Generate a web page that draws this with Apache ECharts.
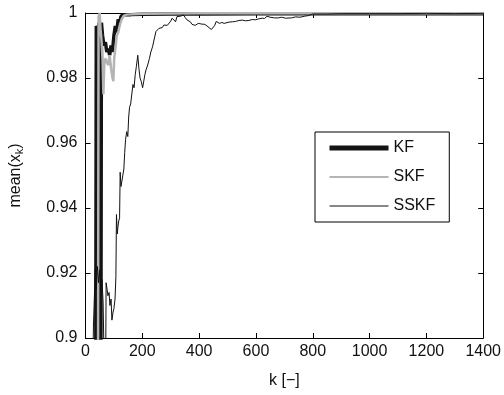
<!DOCTYPE html>
<html>
<head>
<meta charset="utf-8">
<script src="https://cdn.jsdelivr.net/npm/echarts@6/dist/echarts.min.js"></script>
<style>
  html, body { margin: 0; padding: 0; background: #fff; }
  #main { width: 504px; height: 395px; }
</style>
</head>
<body>
<div id="main"></div>
<script>
// values (k, mean(x_k))
var xTicks = [0, 200, 400, 600, 800, 1000, 1200, 1400];
var yTicks = [0.9, 0.92, 0.94, 0.96, 0.98, 1];

var kKF = [0, 36, 38, 43, 48, 51, 53, 54, 56, 60, 65, 70, 75, 80, 85, 90, 95, 100, 105, 110, 115, 120, 125, 130, 135, 160, 200, 300, 400, 600, 800, 1000, 1200, 1400];
var vKF = [0.6, 0.88, 0.996, 0.995, 0.997, 0.99, 0.85, 0.88, 0.997, 0.993, 0.99, 0.991, 0.988, 0.989, 0.987, 0.99, 0.988, 0.993, 0.996, 0.994, 0.998, 0.997, 0.999, 0.9985, 0.9995, 0.9995, 0.9996, 0.9997, 0.9997, 0.9998, 0.9998, 0.9998, 0.9998, 0.9998];

var kSKF = [0, 44, 46, 50, 53, 56, 60, 63, 66, 70, 75, 80, 85, 90, 95, 98, 101, 105, 110, 115, 120, 127, 135, 145, 200, 400, 800, 1400];
var vSKF = [0.6, 0.88, 0.999, 1.0, 0.995, 0.992, 0.986, 0.975, 0.984, 0.986, 0.985, 0.984, 0.987, 0.983, 0.98, 0.979, 0.986, 0.989, 0.993, 0.994, 0.996, 0.998, 0.9992, 0.9995, 0.9998, 0.9999, 0.9999, 0.9999];

var kSSKF = [0, 26, 28, 31, 34, 38, 42, 46, 50, 54, 58, 62, 67, 71, 72.5, 76, 79, 83, 86, 90, 93, 97, 100, 104, 107, 109, 112, 114, 117, 120, 122, 125, 128, 131, 135, 138, 141, 145, 149, 152, 155, 159, 163, 167, 171, 175, 179, 184, 188, 192, 196, 201, 205, 209, 213, 219, 225, 230, 236, 242, 248, 253, 259, 265, 270, 276, 282, 288, 294, 300, 305, 311, 317, 322, 328, 334, 340, 345, 351, 357, 363, 369, 375, 380, 386, 391, 397, 403, 409, 414, 420, 428, 435, 443, 449, 455, 460, 466, 472, 480, 488, 495, 505, 518, 528, 540, 553, 563, 575, 587, 598, 610, 622, 630, 639, 650, 665, 679, 690, 705, 725, 740, 755, 770, 785, 800, 850, 900, 1000, 1100, 1200, 1300, 1400];
var vSSKF = [0.82, 0.893, 0.904, 0.912, 0.921, 0.915, 0.922, 0.917, 0.921, 0.914, 0.918, 0.911, 0.885, 0.89, 0.917, 0.915, 0.913, 0.914, 0.91, 0.912, 0.9055, 0.908, 0.909, 0.912, 0.919, 0.938, 0.932, 0.934, 0.936, 0.937, 0.951, 0.9466, 0.947, 0.946, 0.952, 0.957, 0.961, 0.9635, 0.962, 0.968, 0.971, 0.972, 0.972, 0.978, 0.977, 0.981, 0.9835, 0.987, 0.983, 0.98, 0.979, 0.977, 0.979, 0.981, 0.9825, 0.984, 0.986, 0.988, 0.9896, 0.992, 0.9943, 0.9945, 0.9953, 0.9958, 0.9955, 0.9963, 0.9958, 0.9962, 0.9963, 0.9975, 0.9984, 0.9978, 0.9973, 0.9989, 0.9986, 0.999, 0.9988, 0.9994, 0.9986, 0.9979, 0.9976, 0.9973, 0.9965, 0.9959, 0.9962, 0.9963, 0.9968, 0.9969, 0.9966, 0.9968, 0.9965, 0.996, 0.9956, 0.9949, 0.9948, 0.9962, 0.9974, 0.997, 0.9968, 0.9971, 0.9968, 0.9969, 0.9972, 0.9973, 0.9974, 0.9977, 0.9978, 0.9976, 0.9977, 0.998, 0.9979, 0.9982, 0.9984, 0.9983, 0.999, 0.9987, 0.9985, 0.9985, 0.9987, 0.9984, 0.9985, 0.9988, 0.9987, 0.999, 0.9992, 0.9997, 0.9997, 0.9998, 0.9998, 0.9998, 0.9999, 0.9998, 0.9999];

function pairs(ks, vs) {
  return ks.map(function (k, i) { return [k, vs[i]]; });
}

var font = 'Liberation Sans, Arial, Helvetica, sans-serif';
var chart = echarts.init(document.getElementById('main'));

var axisBase = {
  axisLine: { show: true, onZero: false, lineStyle: { color: '#000', width: 1 } },
  axisTick: { show: true, inside: true, length: 5, lineStyle: { color: '#000' } },
  splitLine: { show: false }
};

var option = {
  animation: false,
  backgroundColor: '#fff',
  textStyle: { fontFamily: font },
  grid: { left: 80, top: 13, right: 18, bottom: 57 },
  legend: {
    orient: 'vertical',
    left: 315,
    top: 132,
    padding: [8, 14, 8, 12],
    itemWidth: 59,
    itemHeight: 14,
    itemGap: 13,
    itemTextGap: 12,
    borderColor: '#000',
    borderWidth: 1,
    borderRadius: 0,
    backgroundColor: '#fff',
    selectedMode: false,
    itemStyle: { color: 'transparent', borderWidth: 0, opacity: 0 },
    textStyle: { fontFamily: font, fontSize: 16, color: '#111' },
    data: [
      { name: 'KF', lineStyle: { width: 5 } },
      { name: 'SKF', lineStyle: { width: 2 } },
      { name: 'SSKF', lineStyle: { width: 1 } }
    ]
  },
  xAxis: [
    Object.assign({
      type: 'value', min: xTicks[0], max: xTicks[xTicks.length - 1], interval: 200,
      position: 'bottom',
      name: 'k [\u2212]', nameLocation: 'middle', nameGap: 35,
      nameTextStyle: { fontFamily: font, fontSize: 16, color: '#111' },
      axisLabel: {
        fontFamily: font, fontSize: 16, color: '#111', margin: 6,
        formatter: function (v) { return String(v); }
      }
    }, axisBase),
    Object.assign({
      type: 'value', min: xTicks[0], max: xTicks[xTicks.length - 1], interval: 200,
      position: 'top', axisLabel: { show: false }
    }, axisBase)
  ],
  yAxis: [
    Object.assign({
      type: 'value', min: yTicks[0], max: yTicks[yTicks.length - 1], interval: 0.02,
      position: 'left',
      name: '{a|mean(x}{b|k}{a|)}', nameLocation: 'middle', nameGap: 60, nameRotate: 90,
      nameTextStyle: {
        rich: {
          a: { fontFamily: font, fontSize: 16, color: '#111' },
          b: { fontFamily: font, fontSize: 11, color: '#111', padding: [8, 0, 0, 0] }
        }
      },
      axisLabel: { fontFamily: font, fontSize: 16, color: '#111', margin: 8 }
    }, axisBase),
    Object.assign({
      type: 'value', min: yTicks[0], max: yTicks[yTicks.length - 1], interval: 0.02,
      position: 'right', axisLabel: { show: false }
    }, axisBase)
  ],
  series: [
    {
      name: 'KF', type: 'line', showSymbol: false, symbol: 'none',
      data: pairs(kKF, vKF),
      lineStyle: { color: '#141414', width: 3.5 }, itemStyle: { color: '#141414' }
    },
    {
      name: 'SKF', type: 'line', showSymbol: false, symbol: 'none',
      data: pairs(kSKF, vSKF),
      lineStyle: { color: '#b4b4b4', width: 2.5 }, itemStyle: { color: '#b4b4b4' }
    },
    {
      name: 'SSKF', type: 'line', showSymbol: false, symbol: 'none',
      data: pairs(kSSKF, vSSKF),
      lineStyle: { color: '#111', width: 1 }, itemStyle: { color: '#111' }
    }
  ]
};

chart.setOption(option);
</script>
</body>
</html>
